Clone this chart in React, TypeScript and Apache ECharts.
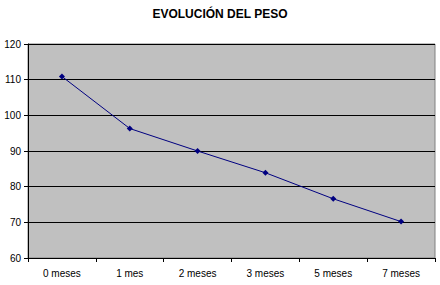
import React, { useEffect, useRef } from "react";
import * as echarts from "echarts";

const categories = ["0 meses", "1 mes", "2 meses", "3 meses", "5 meses", "7 meses"];
const peso = [110.9, 96.3, 90, 83.9, 76.6, 70.2];
const yMin = 60;
const yMax = 120;
const yStep = 10;

export default function App() {
  const ref = useRef<HTMLDivElement>(null);
  useEffect(() => {
    const chart = echarts.init(ref.current!, null, { renderer: "svg" });
    chart.setOption({
      animation: false,
      backgroundColor: "#ffffff",
      title: {
        text: "EVOLUCIÓN DEL PESO",
        left: "center",
        top: 3,
        textStyle: { fontFamily: "Liberation Sans, Arial", fontWeight: "bold", fontSize: 12, color: "#000" },
      },
      grid: { left: 28, top: 44, right: 5, bottom: 27, show: true, backgroundColor: "#c0c0c0", borderColor: "#808080", borderWidth: 1 },
      xAxis: {
        type: "category",
        data: categories,
        boundaryGap: true,
        axisLine: { lineStyle: { color: "#000", width: 1 } },
        axisTick: { show: true, length: 4, lineStyle: { color: "#000" } },
        axisLabel: { fontFamily: "Liberation Sans, Arial", fontSize: 10, color: "#000", margin: 10 },
      },
      yAxis: {
        type: "value",
        min: yMin,
        max: yMax,
        interval: yStep,
        axisLine: { show: true, lineStyle: { color: "#000", width: 1 } },
        axisTick: { show: true, length: 4, lineStyle: { color: "#000" } },
        axisLabel: { fontFamily: "Liberation Sans, Arial", fontSize: 10, color: "#000", margin: 7 },
        splitLine: { show: true, lineStyle: { color: "#000", width: 1 } },
      },
      series: [
        {
          type: "line",
          data: peso,
          symbol: "diamond",
          symbolSize: 6,
          lineStyle: { color: "#000080", width: 1 },
          itemStyle: { color: "#000080" },
        },
      ],
    });
    return () => chart.dispose();
  }, []);
  return <div ref={ref} style={{ width: 440, height: 285, position: "absolute", left: 0, top: 0 }} />;
}
